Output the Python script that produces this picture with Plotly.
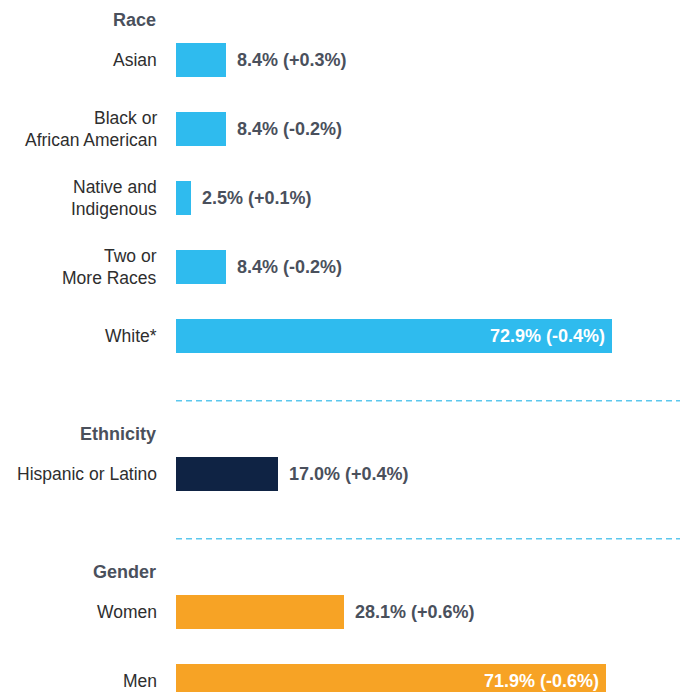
import plotly.graph_objects as go

# data
groups = ["Race", "Ethnicity", "Gender"]
race_labels = ["Asian", "Black or<br>African American", "Native and<br>Indigenous",
               "Two or<br>More Races", "White*"]
race_values = [8.4, 8.4, 2.5, 8.4, 72.9]
race_changes = ["+0.3%", "-0.2%", "+0.1%", "-0.2%", "-0.4%"]
ethnicity_labels = ["Hispanic or Latino"]
ethnicity_values = [17.0]
ethnicity_changes = ["+0.4%"]
gender_labels = ["Women", "Men"]
gender_values = [28.1, 71.9]
gender_changes = ["+0.6%", "-0.6%"]

colors = ["#2fbbee", "#0f2344", "#f7a325"]
label_color = "#2e2e2e"
value_color = "#4a505c"
font_fam = "Liberation Sans, Arial, sans-serif"

# page body adds an 8px margin, so the figure is drawn 8px in from the corner
W, H = 680, 684
x0_px, px_per = 168, 5.98       # bar origin and scale in pixels
row_px, first_px = 69, 52

sections = [
    (race_labels, race_values, race_changes),
    (ethnicity_labels, ethnicity_values, ethnicity_changes),
    (gender_labels, gender_values, gender_changes),
]

fig = go.Figure()
annotations = []
shapes = []

xmin = -x0_px / px_per
xmax = (W - x0_px) / px_per
ymin = -first_px / row_px
ymax = (H - first_px) / row_px

pos = 0
for g, (labels, values, changes) in enumerate(sections):
    ys = list(range(pos, pos + len(labels)))
    fig.add_trace(go.Bar(
        x=values, y=ys, orientation="h", width=34 / row_px,
        marker=dict(color=colors[g], line=dict(width=0)),
        hoverinfo="skip", showlegend=False,
    ))
    # group header
    annotations.append(dict(
        x=0, y=ys[0], xref="x", yref="y", yshift=40, xshift=-18,
        text="<b>%s</b>" % groups[g], showarrow=False, xanchor="right",
        font=dict(family=font_fam, size=18, color=value_color),
    ))
    for lab, v, ch, y in zip(labels, values, changes, ys):
        lines = lab.split("<br>")
        n = len(lines)
        for i, line in enumerate(lines):
            annotations.append(dict(
                x=0, y=y, xref="x", yref="y", xshift=-17,
                yshift=((n - 1) / 2 - i) * 21.5,
                text=line, showarrow=False, xanchor="right",
                font=dict(family=font_fam, size=17.5, color=label_color),
            ))
        txt = "<b>%.1f%% (%s)</b>" % (v, ch)
        if v > 50:
            annotations.append(dict(
                x=v, y=y, xref="x", yref="y", xshift=-5, text=txt,
                showarrow=False, xanchor="right",
                font=dict(family=font_fam, size=18, color="white"),
            ))
        else:
            annotations.append(dict(
                x=v, y=y, xref="x", yref="y", xshift=9, text=txt,
                showarrow=False, xanchor="left",
                font=dict(family=font_fam, size=18, color=value_color),
            ))
    pos += len(labels) + 1
    if g < len(sections) - 1:
        # dashed separator between groups
        sep = pos - 1 - 0.06
        shapes.append(dict(
            type="line", xref="x", yref="y", x0=0, x1=xmax + 2, y0=sep, y1=sep,
            line=dict(color="#5cc8ee", width=1.5, dash="6px,4px"),
        ))

fig.update_layout(
    width=W, height=H,
    margin=dict(l=0, r=0, t=0, b=0),
    paper_bgcolor="white", plot_bgcolor="white",
    xaxis=dict(range=[xmin, xmax], visible=False, fixedrange=True),
    yaxis=dict(range=[ymax, ymin], visible=False, fixedrange=True),
    annotations=annotations, shapes=shapes,
    bargap=0,
)

fig.write_html("out.html")
